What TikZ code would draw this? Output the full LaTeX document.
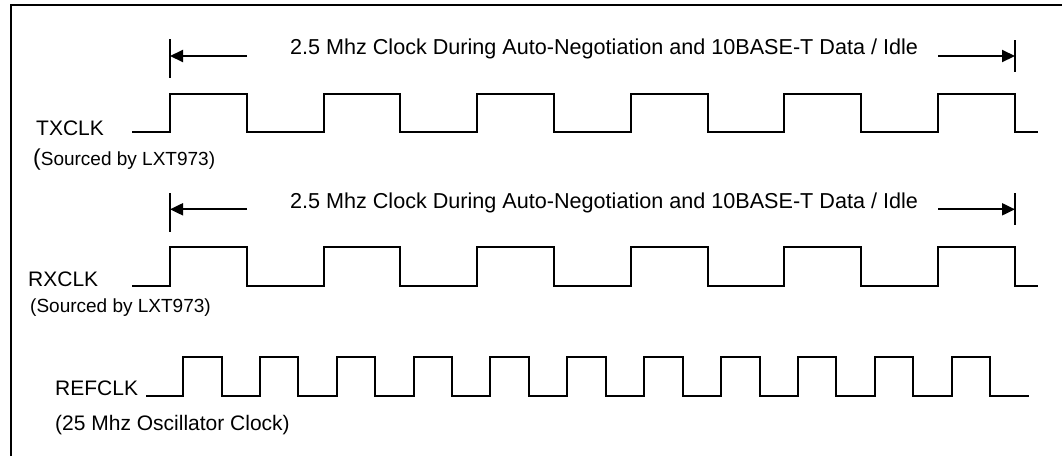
\documentclass[tikz,border=0pt]{standalone}
\usepackage{fontspec}
\setmainfont{Liberation Sans}
\usetikzlibrary{arrows.meta}
\tikzset{
  wave/.style={line width=2pt, line join=miter},
  frameline/.style={line width=2pt},
  tickline/.style={line width=2pt},
  dimarrow/.style={line width=2pt, -{Triangle[length=13pt,width=12pt]}},
  lbl/.style={anchor=base west, inner sep=0pt, font=\fontsize{21}{25}\selectfont},
  sublbl/.style={anchor=base west, inner sep=0pt, font=\fontsize{19}{23}\selectfont},
  dimtext/.style={anchor=base, inner sep=0pt, font=\fontsize{21.6}{26}\selectfont}
}
\begin{document}
\begin{tikzpicture}[x=1pt,y=-1pt]
\useasboundingbox (0,0) rectangle (1062,456);
% frame (top and left only)
\draw[frameline] (11,456) -- (11,5) -- (1062,5);

% ---------- TXCLK ----------
\node[dimtext] (txtext) at (604,54) {2.5 Mhz Clock During Auto-Negotiation and 10BASE-T Data / Idle};
\coordinate (txL) at (170,56);
\coordinate (txLs) at (247,56);
\coordinate (txR) at (1015,56);
\coordinate (txRs) at (938,56);
\draw[tickline] (170,39) -- (170,78);
\draw[tickline] (1015,40) -- (1015,72);
\draw[dimarrow] (txLs) -- (txL);
\draw[dimarrow] (txRs) -- (txR);
\draw[wave] (132,131.7) foreach \i in {0,...,5} {
  -- ({170+\i*153.6},131.7) -- ({170+\i*153.6},94) -- ({246.8+\i*153.6},94) -- ({246.8+\i*153.6},131.7)
} -- (1038,131.7);
\node[lbl] (txclk) at (36,135) {TXCLK};
\node[sublbl] (txsrc) at (33,165) {{\fontsize{23}{25}\selectfont(}Sourced by LXT973)};

% ---------- RXCLK ----------
\node[dimtext] (rxtext) at (604,208) {2.5 Mhz Clock During Auto-Negotiation and 10BASE-T Data / Idle};
\coordinate (rxL) at (170,209.3);
\coordinate (rxLs) at (247,209.3);
\coordinate (rxR) at (1015,209.3);
\coordinate (rxRs) at (938,209.3);
\draw[tickline] (170,193) -- (170,232);
\draw[tickline] (1015,193) -- (1015,225);
\draw[dimarrow] (rxLs) -- (rxL);
\draw[dimarrow] (rxRs) -- (rxR);
\draw[wave] (132,286) foreach \i in {0,...,5} {
  -- ({170+\i*153.6},286) -- ({170+\i*153.6},246.7) -- ({246.8+\i*153.6},246.7) -- ({246.8+\i*153.6},286)
} -- (1038,286);
\node[lbl] (rxclk) at (28,286) {RXCLK};
\node[sublbl] (rxsrc) at (30,312) {(Sourced by LXT973)};

% ---------- REFCLK ----------
\draw[wave] (146,395.7) foreach \i in {0,...,10} {
  -- ({183+\i*76.87},395.7) -- ({183+\i*76.87},356.7) -- ({221.5+\i*76.87},356.7) -- ({221.5+\i*76.87},395.7)
} -- (1029,395.7);
\node[lbl] (refclk) at (55,395) {REFCLK};
\node[lbl] (refsrc) at (55,430) {(25 Mhz Oscillator Clock)};
\end{tikzpicture}
\end{document}
